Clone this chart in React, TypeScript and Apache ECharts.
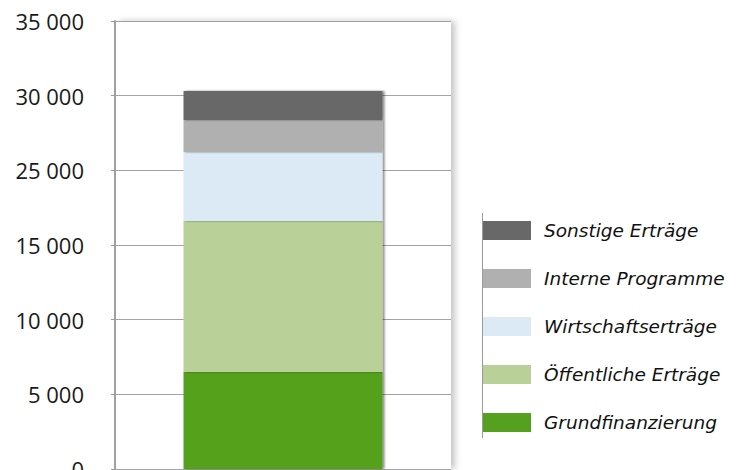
import React, { useEffect, useRef } from "react";
import * as echarts from "echarts";

const categories = ["Erträge"];
const seriesNames = [
  "Grundfinanzierung",
  "Öffentliche Erträge",
  "Wirtschaftserträge",
  "Interne Programme",
  "Sonstige Erträge",
];
const grundfinanzierung = [6500];
const oeffentlicheErtraege = [10100];
const wirtschaftsertraege = [4620];
const interneProgramme = [2150];
const sonstigeErtraege = [1940];
const seriesValues = [grundfinanzierung, oeffentlicheErtraege, wirtschaftsertraege, interneProgramme, sonstigeErtraege];
const seriesColors = ["#55a11f", "#b9d198", "#dbeaf5", "#b0b0b0", "#686868"];
const legendOrder = [
  "Sonstige Erträge",
  "Interne Programme",
  "Wirtschaftserträge",
  "Öffentliche Erträge",
  "Grundfinanzierung",
];
const yTickLabels = ["0", "5 000", "10 000", "15 000", "25 000", "30 000", "35 000"];
const yInterval = 5000;
const yMax = 30000;

export default function App() {
  const ref = useRef<HTMLDivElement>(null);
  useEffect(() => {
    if (!ref.current) return;
    const chart = echarts.init(ref.current, null, { renderer: "svg" });
    chart.setOption({
      animation: false,
      backgroundColor: "#ffffff",
      grid: {
        left: 115,
        right: 291,
        top: 21,
        bottom: 1,
        outerBoundsMode: "none",
        containLabel: false,
        show: true,
        backgroundColor: "#ffffff",
        borderWidth: 0,
        shadowColor: "rgba(0,0,0,0.22)",
        shadowBlur: 6,
        shadowOffsetX: 4,
        shadowOffsetY: 0,
      },
      legend: {
        orient: "vertical",
        left: 483,
        top: 221,
        padding: 0,
        itemWidth: 48,
        itemHeight: 19,
        itemGap: 29,
        icon: "rect",
        data: legendOrder,
        selectedMode: false,
        textStyle: {
          fontFamily: "DejaVu Sans",
          fontStyle: "italic",
          fontSize: 18.5,
          color: "#111111",
          padding: [0, 0, 0, 8],
          lineHeight: 19,
        },
      },
      graphic: [
        {
          type: "line",
          shape: { x1: 482.5, y1: 213, x2: 482.5, y2: 438 },
          style: { stroke: "#9a9a9a", lineWidth: 1 },
          z: 10,
        },
      ],
      xAxis: {
        type: "category",
        data: categories,
        axisLine: { show: false },
        axisTick: { show: false },
        axisLabel: { show: false },
      },
      yAxis: {
        type: "value",
        min: 0,
        max: yMax,
        interval: yInterval,
        axisLine: { show: true, lineStyle: { color: "#a0a0a0", width: 2 } },
        axisTick: { show: true, length: 4, lineStyle: { color: "#9a9a9a", width: 1 } },
        splitLine: { show: true, lineStyle: { color: "#a3a3a3", width: 1.2 } },
        axisLabel: {
          margin: 31,
          fontFamily: "Open Sans",
          fontSize: 22,
          color: "#1a1a1a",
          formatter: (v: number) => yTickLabels[Math.round(v / yInterval)] ?? "",
        },
      },
      series: seriesNames.map((name, i) => ({
        name,
        type: "bar",
        stack: "total",
        barWidth: 199,
        data: seriesValues[i],
        itemStyle: {
          color: seriesColors[i],
          shadowColor: "rgba(0,0,0,0.45)",
          shadowBlur: 2,
          shadowOffsetX: 2,
        },
      })),
    });
    return () => chart.dispose();
  }, []);
  return (
    <div
      ref={ref}
      style={{ position: "absolute", left: 0, top: 0, width: 742, height: 470 }}
    />
  );
}
